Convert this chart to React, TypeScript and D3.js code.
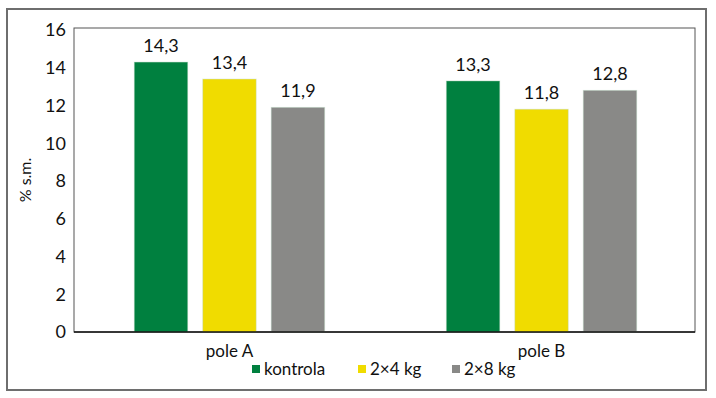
import React from 'react';
import * as d3 from 'd3';

const groups = ['pole A', 'pole B'];
const series = ['kontrola', '2×4 kg', '2×8 kg'];
const kontrola = [14.3, 13.3];
const kg4 = [13.4, 11.8];
const kg8 = [11.9, 12.8];
const yTicks = [0, 2, 4, 6, 8, 10, 12, 14, 16];
const colors = ['#00803f', '#f0dc00', '#898987'];

export default function App() {
  const W = 716, H = 398;
  const left = 75, right = 696, top = 28, bottom = 332;
  const font = 'Lato, "Open Sans", sans-serif';

  const values = [kontrola, kg4, kg8];
  const x0 = d3.scaleBand().domain(groups).range([left, right]).paddingInner(0.39).paddingOuter(0.19);
  const x1 = d3.scaleBand().domain(series).range([0, x0.bandwidth()]).paddingInner(0.22);
  const y = d3.scaleLinear().domain([0, 16]).range([bottom, top + 2]);

  const fmt = (v: number) => v.toFixed(1).replace('.', ',');

  const legendX = [252, 358, 452];

  return (
    <svg width={W} height={H} style={{ position: 'absolute', left: 0, top: 0 }} fontFamily={font}>
      <rect x={7} y={9} width={699} height={381} fill="#fff" stroke="#6e6e6e" strokeWidth={2} />
      <rect x={left - 1} y={top} width={right - left} height={bottom - top} fill="none" stroke="#555" strokeWidth={1} />
      {yTicks.map(t => (
        <text key={t} x={66} y={y(t)} dy="0.35em" textAnchor="end" fontSize={18} fill="#111">{t}</text>
      ))}
      <text transform={`translate(31,${(top + bottom) / 2}) rotate(-90)`} textAnchor="middle" fontSize={16} fill="#111">% s.m.</text>
      {groups.map((g, gi) => (
        <g key={g}>
          {series.map((s, si) => {
            const v = values[si][gi];
            const bx = (x0(g) ?? 0) + (x1(s) ?? 0);
            return (
              <g key={s}>
                <rect x={bx} y={y(v)} width={x1.bandwidth()} height={bottom - y(v)} fill={colors[si]} stroke="#b8d8c0" strokeOpacity={0.4} strokeWidth={1} />
                <text x={bx + x1.bandwidth() / 2} y={y(v) - 10} textAnchor="middle" fontSize={18} fill="#111">{fmt(v)}</text>
              </g>
            );
          })}
          <text x={(x0(g) ?? 0) + x0.bandwidth() / 2} y={351} dy="0.35em" textAnchor="middle" fontSize={17} fill="#111">{g}</text>
        </g>
      ))}
      <line x1={left - 1} x2={right - 1} y1={bottom} y2={bottom} stroke="#111" strokeWidth={1.5} />
      {series.map((s, si) => (
        <g key={s} transform={`translate(${legendX[si]},369)`}>
          <rect x={0} y={-4} width={8} height={8} fill={colors[si]} />
          <text x={12} y={0} dy="0.35em" fontSize={17} fill="#111">{s}</text>
        </g>
      ))}
    </svg>
  );
}
